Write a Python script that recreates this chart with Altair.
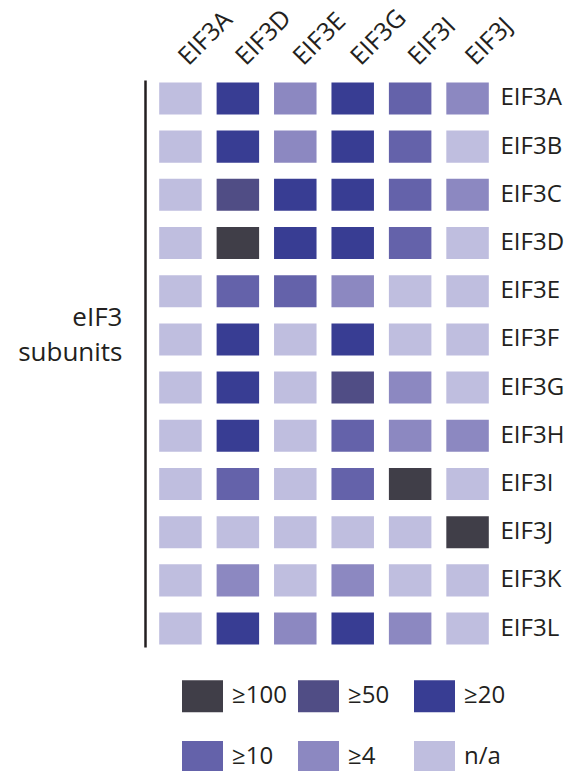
import altair as alt
import pandas as pd

# Interaction partners (rows) and bait subunits (columns)
row_labels = ["EIF3A", "EIF3B", "EIF3C", "EIF3D", "EIF3E", "EIF3F",
              "EIF3G", "EIF3H", "EIF3I", "EIF3J", "EIF3K", "EIF3L"]
col_labels = ["EIF3A", "EIF3D", "EIF3E", "EIF3G", "EIF3I", "EIF3J"]

# Enrichment class of each cell, listed down the rows for every column
col_eif3a = ["n/a", "n/a", "n/a", "n/a", "n/a", "n/a",
             "n/a", "n/a", "n/a", "n/a", "n/a", "n/a"]
col_eif3d = ["≥20", "≥20", "≥50", "≥100", "≥10", "≥20",
             "≥20", "≥20", "≥10", "n/a", "≥4", "≥20"]
col_eif3e = ["≥4", "≥4", "≥20", "≥20", "≥10", "n/a",
             "n/a", "n/a", "n/a", "n/a", "n/a", "≥4"]
col_eif3g = ["≥20", "≥20", "≥20", "≥20", "≥4", "≥20",
             "≥50", "≥10", "≥10", "n/a", "≥4", "≥20"]
col_eif3i = ["≥10", "≥10", "≥10", "≥10", "n/a", "n/a",
             "≥4", "≥4", "≥100", "n/a", "n/a", "≥4"]
col_eif3j = ["≥4", "n/a", "≥4", "n/a", "n/a", "n/a",
             "n/a", "≥4", "n/a", "≥100", "n/a", "n/a"]

classes = ["≥100", "≥50", "≥20", "≥10", "≥4", "n/a"]
class_colors = ["#403e48", "#504d85", "#383d93", "#6462aa", "#8c88c1", "#bfbedf"]

columns = [col_eif3a, col_eif3d, col_eif3e, col_eif3g, col_eif3i, col_eif3j]
records = []
for bait, values in zip(col_labels, columns):
    for partner, cls in zip(row_labels, values):
        records.append({"bait": bait, "partner": partner, "cls": cls})
df = pd.DataFrame(records)

FONT = "Open Sans"
INK = "#231f20"

x_enc = alt.X(
    "bait:N",
    sort=col_labels,
    scale=alt.Scale(paddingInner=0.26, paddingOuter=0.16),
    axis=alt.Axis(orient="top", title=None, labelAngle=-45, labelAlign="left",
                  labelBaseline="alphabetic", labelPadding=14, labelOffset=8,
                  ticks=False, tickSize=0, domain=False, labelFont=FONT,
                  labelFontSize=25, labelColor=INK),
)
y_scale = alt.Scale(paddingInner=0.335, paddingOuter=0.05)

cells = alt.Chart(df).mark_rect().encode(
    x=x_enc,
    y=alt.Y("partner:N", sort=row_labels, scale=y_scale,
            axis=alt.Axis(orient="right", title=None, ticks=False, tickSize=0,
                          domain=False, labelPadding=2, labelFont=FONT,
                          labelFontSize=24, labelColor=INK,
                          labelBaseline="middle")),
    color=alt.Color(
        "cls:N",
        scale=alt.Scale(domain=classes, range=class_colors),
        legend=alt.Legend(
            orient="none", legendX=32, legendY=595.5, direction="horizontal",
            columns=3, title=None, padding=0,
            symbolType="M-1,-0.78H1V0.78H-1Z", symbolSize=1681,
            symbolStrokeWidth=0, symbolOpacity=1,
            labelFont=FONT, labelFontSize=24, labelColor=INK,
            labelOffset=9, columnPadding=11, rowPadding=24, gridAlign="all",
            labelLimit=0,
        ),
    ),
)

# Bracket on the left carrying the group title
bracket = alt.Chart(df).mark_rect(fillOpacity=0, strokeOpacity=0).encode(
    x=alt.X("bait:N", sort=col_labels),
    y=alt.Y("partner:N", sort=row_labels,
            axis=alt.Axis(orient="left", labels=False, ticks=False,
                          tickSize=0, domain=True, domainColor=INK,
                          domainWidth=2.5, offset=5,
                          title=["eIF3", "subunits"], titleAngle=0,
                          titleAlign="right", titleBaseline="alphabetic",
                          titleFont=FONT, titleFontSize=26,
                          titleFontWeight="normal", titleColor=INK,
                          titleLineHeight=35, titleX=-23, titleY=245)),
)

chart = alt.layer(cells, bracket).resolve_axis(y="independent").properties(
    width=348, height=567,
    padding={"left": 150, "top": 80, "right": 67, "bottom": 124},
    autosize=alt.AutoSizeParams(type="none"),
).configure_view(stroke=None)

chart.save("out.html", embed_options={"renderer": "svg", "actions": False})
